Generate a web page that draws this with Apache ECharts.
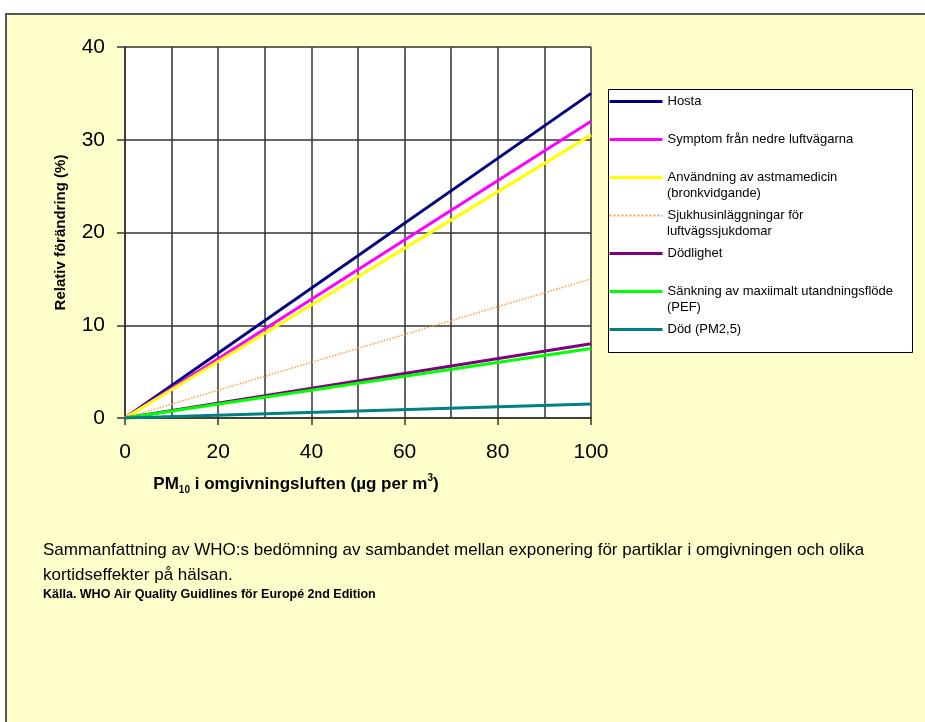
<!DOCTYPE html>
<html>
<head>
<meta charset="utf-8">
<script src="https://cdn.jsdelivr.net/npm/echarts@6/dist/echarts.min.js"></script>
<style>
  html, body { margin: 0; padding: 0; background: #fff; }
  .frame {
    position: absolute; left: 5px; top: 13px; width: 940px; height: 740px;
    background: #ffffcc; border: 2px solid #555;
  }
  #chart { position: absolute; left: 0; top: 0; width: 925px; height: 722px; }
</style>
</head>
<body>
<div class="frame"></div>
<div id="chart"></div>
<script>
// PM10-halt (µg/m3)
const pm10 = [0, 100];

// relativ förändring (%) per effekt
const hosta = [0, 35];
const symptom = [0, 32];
const astmamedicin = [0, 30.5];
const sjukhus = [0, 15];
const dodlighet = [0, 8];
const pef = [0, 7.5];
const dodPm25 = [0, 1.5];

const seriesNames = [
  'Hosta',
  'Symptom från nedre luftvägarna',
  'Användning av astmamedicin',
  'Sjukhusinläggningar för',
  'Dödlighet',
  'Sänkning av maxiimalt utandningsflöde',
  'Död (PM2,5)',
];
const seriesValues = [hosta, symptom, astmamedicin, sjukhus, dodlighet, pef, dodPm25];
const colors = ['#000080', '#ff00ff', '#ffff00', '#ff9f40', '#800080', '#00ff00', '#008080'];

const yTicks = [0, 10, 20, 30, 40];
const xTicks = [0, 20, 40, 60, 80, 100];

const font = "Arial, 'Liberation Sans', sans-serif";
const legendFont = '13px ' + font;

const mychart = echarts.init(document.getElementById('chart'));

const option = {
  animation: false,
  textStyle: { fontFamily: font },
  grid: {
    left: 125,
    right: 334,
    top: 47,
    bottom: 304,
    show: true,
    backgroundColor: '#ffffff',
    borderWidth: 0,
  },
  xAxis: {
    type: 'value',
    min: xTicks[0],
    max: xTicks[xTicks.length - 1],
    interval: 20,
    name: 'PM{sub|10} i omgivningsluften (µg per m{sup|3})',
    nameLocation: 'middle',
    nameGap: 55,
    nameTextStyle: {
      color: '#000',
      fontSize: 17,
      fontWeight: 'bold',
      lineHeight: 22,
      padding: [0, 124, 0, 0],
      rich: {
        sub: { fontSize: 10, fontWeight: 'bold', verticalAlign: 'bottom', lineHeight: 14 },
        sup: { fontSize: 10, fontWeight: 'bold', verticalAlign: 'top', lineHeight: 12 },
      },
    },
    axisLine: { show: true, lineStyle: { color: '#333', width: 1.5 } },
    axisTick: { show: true, inside: false, length: 7, lineStyle: { color: '#333', width: 1.5 } },
    axisLabel: { color: '#000', fontSize: 21, margin: 24 },
    splitLine: { show: true, lineStyle: { color: '#333', width: 1.5 } },
    minorTick: { show: false, splitNumber: 2 },
    minorSplitLine: { show: true, lineStyle: { color: '#333', width: 1.5 } },
  },
  yAxis: {
    type: 'value',
    min: yTicks[0],
    max: yTicks[yTicks.length - 1],
    interval: 10,
    name: 'Relativ förändring (%)',
    nameLocation: 'middle',
    nameGap: 57,
    nameTextStyle: { color: '#000', fontSize: 15, fontWeight: 'bold' },
    axisLine: { show: true, lineStyle: { color: '#333', width: 1.5 } },
    axisTick: { show: true, inside: false, length: 8, lineStyle: { color: '#333', width: 1.5 } },
    axisLabel: { color: '#000', fontSize: 21, margin: 20 },
    splitLine: { show: true, lineStyle: { color: '#333', width: 1.5 } },
  },
  legend: {
    orient: 'vertical',
    left: 608,
    top: 95,
    itemWidth: 53,
    itemHeight: 12,
    itemGap: 25,
    padding: 0,
    itemStyle: { opacity: 0 },
    textStyle: { color: '#000', fontSize: 13, fontFamily: font },
    data: seriesNames.map((name, i) => ({
      name: name,
      lineStyle: { width: i === 3 ? 2 : 3 },
    })),
  },
  graphic: [
    {
      type: 'rect',
      shape: { x: 608.5, y: 89.5, width: 304, height: 263 },
      style: { fill: '#ffffff', stroke: '#000', lineWidth: 1 },
      z: 0,
    },
    {
      type: 'text', left: 667, top: 187,
      style: { text: '(bronkvidgande)', font: legendFont, fill: '#000' },
    },
    {
      type: 'text', left: 667, top: 225,
      style: { text: 'luftvägssjukdomar', font: legendFont, fill: '#000' },
    },
    {
      type: 'text', left: 667, top: 301,
      style: { text: '(PEF)', font: legendFont, fill: '#000' },
    },
  ],
  title: {
    left: 43,
    top: 538,
    text: 'Sammanfattning av WHO:s bedömning av sambandet mellan exponering för partiklar i omgivningen och olika\nkortidseffekter på hälsan.',
    textStyle: { color: '#000', fontSize: 17, fontWeight: 'normal', lineHeight: 25 },
    subtext: 'Källa. WHO Air Quality Guidlines för Europé 2nd Edition',
    subtextStyle: { color: '#000', fontSize: 12.5, fontWeight: 'bold' },
    itemGap: 0,
    padding: 0,
  },
  series: seriesNames.map((name, i) => ({
    name: name,
    type: 'line',
    symbol: 'none',
    lineStyle: {
      color: colors[i],
      width: i === 3 ? 1.5 : 3,
      type: i === 3 ? 'dotted' : 'solid',
    },
    itemStyle: { color: colors[i] },
    data: pm10.map((x, j) => [x, seriesValues[i][j]]),
  })),
};

mychart.setOption(option);
</script>
</body>
</html>
